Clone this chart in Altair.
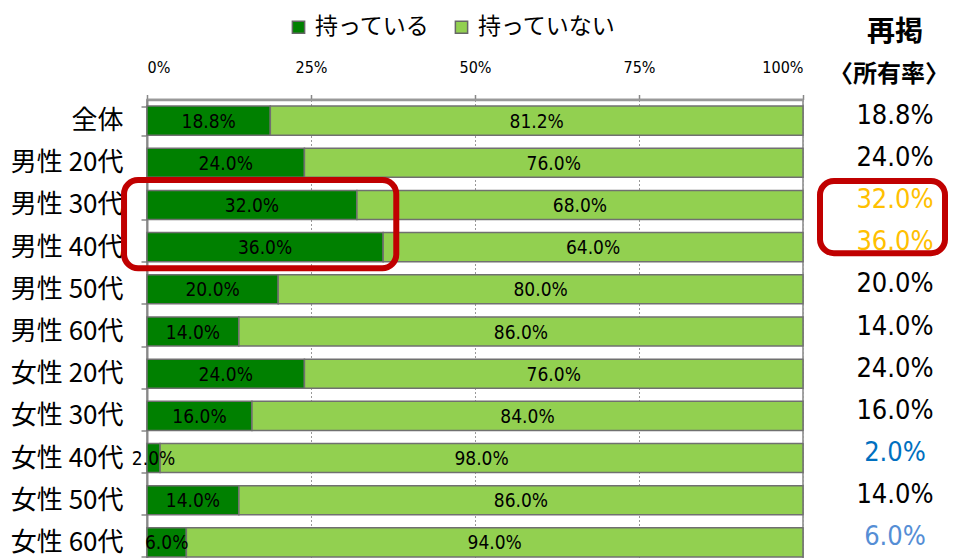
import altair as alt
import pandas as pd

categories = ["全体", "男性 20代", "男性 30代", "男性 40代", "男性 50代", "男性 60代",
              "女性 20代", "女性 30代", "女性 40代", "女性 50代", "女性 60代"]
have = [18.8, 24.0, 32.0, 36.0, 20.0, 14.0, 24.0, 16.0, 2.0, 14.0, 6.0]
not_have = [81.2, 76.0, 68.0, 64.0, 80.0, 86.0, 76.0, 84.0, 98.0, 86.0, 94.0]
series = ["持っている", "持っていない"]
x_ticks = [0, 25, 50, 75, 100]
header = ["再掲", "〈所有率〉"]
box_rows = ["男性 30代", "男性 40代"]

NUM = "DejaVu Sans Condensed, Liberation Sans Narrow, sans-serif"
JP = "Noto Sans CJK JP"
value_colors = {"男性 30代": "#FFC000", "男性 40代": "#FFC000",
                "女性 40代": "#0070C0", "女性 60代": "#558ED5"}

rows = []
for c, h, n in zip(categories, have, not_have):
    rows.append({"category": c, "status": series[0], "order": 0, "value": h})
    rows.append({"category": c, "status": series[1], "order": 1, "value": n})
long_df = pd.DataFrame(rows)

wide_df = pd.DataFrame({"category": categories, "have": have})
wide_df["tc"] = [value_colors.get(c, "#000000") for c in categories]

yscale = alt.Scale(domain=categories, paddingInner=0.31, paddingOuter=0.155)
yaxis = alt.Axis(title=None, orient="left", labelFont=JP, labelFontSize=26,
                 labelColor="black", labelPadding=18, tickSize=6, tickColor="#888",
                 tickWidth=1.5, domainColor="#888", domainWidth=2, tickBand="extent",
                 grid=False, labelLimit=300)


def Y(field):
    return alt.Y(f"{field}:N", scale=yscale, axis=yaxis)


xscale = alt.Scale(domain=[0, 100], nice=False, zero=True)
xaxis = alt.Axis(title=None, orient="top", values=x_ticks, labelExpr="datum.value + '%'",
                 labelFont=NUM, labelFontSize=16, labelColor="black", labelPadding=19,
                 tickSize=5, tickColor="#888", tickWidth=1.5, domainColor="#999",
                 domainWidth=2.5, grid=True, gridDash=[2, 2], gridColor="#999",
                 gridWidth=1)

base = alt.Chart(long_df).transform_stack(
    stack="value", groupby=["category"], as_=["x0", "x1"],
    sort=[alt.SortField("order", order="ascending")]
).transform_calculate(
    mid="(datum.x0 + datum.x1) / 2",
    label="format(datum.value, '.1f') + '%'"
)

bars = base.mark_bar(stroke="#707070", strokeWidth=1.5).encode(
    x=alt.X("x0:Q", scale=xscale, axis=xaxis),
    x2="x1:Q",
    y=Y("category"),
    color=alt.Color("status:N",
                    scale=alt.Scale(domain=series, range=["#008000", "#92D050"]),
                    legend=alt.Legend(orient="none", legendX=140, legendY=-84,
                                      direction="horizontal", title=None,
                                      symbolType="square", symbolSize=150,
                                      symbolStrokeColor="#666", symbolStrokeWidth=1.5,
                                      labelFont=JP, labelFontSize=23, labelColor="black",
                                      columnPadding=20, labelOffset=5, padding=0,
                                      labelLimit=400)),
)

labels = base.mark_text(font=NUM, fontSize=19, color="black", baseline="middle", dy=1).encode(
    x="mid:Q", y=Y("category"), text="label:N"
)

box_df = pd.DataFrame({"r1": [box_rows[0]], "r2": [box_rows[1]]})
left_box = alt.Chart(box_df).mark_rect(
    filled=False, stroke="#C00000", strokeWidth=6, cornerRadius=14,
    yOffset=-25, y2Offset=21
).encode(x=alt.datum(-3.5), x2=alt.datum(38.0), y=Y("r1"), y2="r2:N")

right_box = alt.Chart(box_df).mark_rect(
    filled=False, stroke="#C00000", strokeWidth=6, cornerRadius=14,
    yOffset=-24, y2Offset=6
).encode(x=alt.value(673), x2=alt.value(798), y=Y("r1"), y2="r2:N")

vals = alt.Chart(wide_df).transform_calculate(
    label="format(datum.have, '.1f') + '%'"
).mark_text(font=NUM, fontSize=27, baseline="middle", dy=-5).encode(
    x=alt.value(748), y=Y("category"), text="label:N",
    color=alt.Color("tc:N", scale=None)
)

hdr1 = alt.Chart(pd.DataFrame({"t": [header[0]]})).mark_text(
    font=JP, fontSize=28, fontWeight="bold", color="black", baseline="middle"
).encode(text="t:N", x=alt.value(748), y=alt.value(-67))

hdr2 = alt.Chart(pd.DataFrame({"t": [header[1]]})).mark_text(
    font=JP, fontSize=24, fontWeight="bold", color="black", baseline="middle"
).encode(text="t:N", x=alt.value(742), y=alt.value(-25))

chart = alt.layer(bars, labels, left_box, right_box, vals, hdr1, hdr2).properties(
    width=656, height=464,
    autosize=alt.AutoSizeParams(type="none"),
    padding={"left": 139, "top": 91.5, "right": 146, "bottom": 0},
).configure_view(stroke="#888", strokeWidth=1.5)

chart.save("out.html", embed_options={"renderer": "svg", "actions": False})
